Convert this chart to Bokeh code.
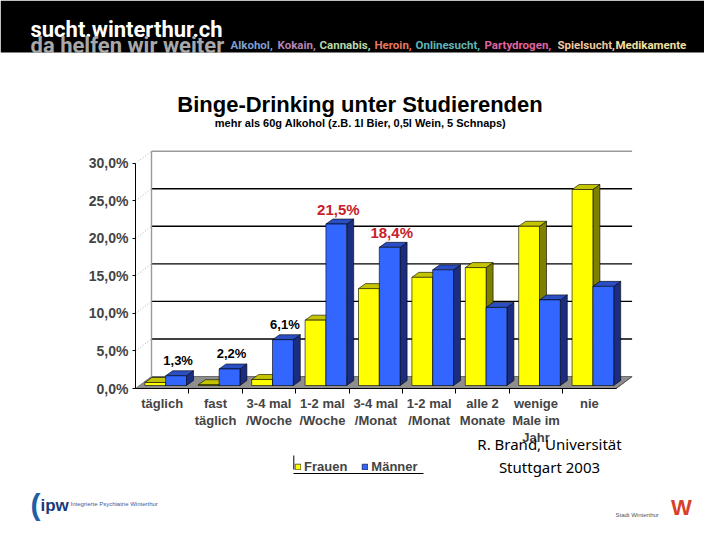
import numpy as np
from bokeh.plotting import figure
from bokeh.models import (Label, FixedTicker, Legend, LegendItem, BoxAnnotation,
                          Arrow, Range1d)
from bokeh.core.properties import value
from bokeh.embed import file_html
from bokeh.resources import INLINE

# ---------------- data ----------------
categories = ["täglich", "fast\ntäglich", "3-4 mal\n/Woche", "1-2 mal\n/Woche",
              "3-4 mal\n/Monat", "1-2 mal\n/Monat", "alle 2\nMonate",
              "wenige\nMale im\nJahr", "nie"]
frauen = [0.4, 0.1, 0.8, 8.7, 12.9, 14.4, 15.7, 21.2, 26.1]
maenner = [1.3, 2.2, 6.1, 21.5, 18.4, 15.4, 10.4, 11.4, 13.2]
labelled_maenner = [1.3, 2.2, 6.1, 21.5, 18.4]
y_ticks = [0, 5, 10, 15, 20, 25, 30]
y_tick_labels = ["0,0%", "5,0%", "10,0%", "15,0%", "20,0%", "25,0%", "30,0%"]
series_names = ["Frauen", "Männer"]
topics = ["Alkohol,", "Kokain,", "Cannabis,", "Heroin,", "Onlinesucht,",
          "Partydrogen,", "Spielsucht,", "Medikamente"]

# ---------------- styling / geometry ----------------
W, H = 704, 524
X0, Y0 = 135, 388                         # canvas px of the front axis origin
PXU = 53.4                                # px per category
PYU = 7.51                                # px per percent
WX, WY = 16 / PXU, 12 / PYU               # back-wall offset
BX0, BY0 = 3.5 / PXU, 3 / PYU             # bar placement depth
BDX, BDY = 7 / PXU, 5 / PYU               # bar depth
BW = 20.8 / PXU                           # bar width
n = len(categories)

AR = "Liberation Sans"
p = figure(width=W, height=H, output_backend="svg", toolbar_location=None,
           x_range=Range1d(-X0 / PXU, (W - X0) / PXU),
           y_range=Range1d(-(H - Y0) / PYU, Y0 / PYU),
           min_border=0, background_fill_color="white", border_fill_color="white")
p.outline_line_color = None
p.grid.visible = False

# floor
p.patch([0, n, n + WX, WX], [0, 0, WY, WY], fill_color="#8e8e8e",
        line_color="#6e6e6e", line_width=1)
# back wall grid
gl = [k for k in y_ticks if 0 < k < y_ticks[-1]]
p.multi_line([[WX, n + WX] for k in gl], [[k + WY, k + WY] for k in gl],
             line_color="black", line_width=1.4)
p.multi_line([[WX, n + WX], [WX, WX]], [[y_ticks[-1] + WY] * 2, [WY, y_ticks[-1] + WY]],
             line_color="#9a9a9a", line_width=1.4)
p.multi_line([[0, WX] for k in y_ticks], [[k, k + WY] for k in y_ticks],
             line_color="#b0b0b0", line_width=1, line_dash="1 2")


def faces(lefts, vals):
    sx, sy, tx, ty = [], [], [], []
    for x0, v in zip(lefts, vals):
        x1 = x0 + BW
        b, t = BY0, v + BY0
        sx.append([x1, x1 + BDX, x1 + BDX, x1])
        sy.append([b, b + BDY, t + BDY, t])
        tx.append([x0, x1, x1 + BDX, x0 + BDX])
        ty.append([t, t, t + BDY, t + BDY])
    return sx, sy, tx, ty


centers = np.arange(n) + 0.5 + BX0
series = [(frauen, centers - BW / 2, "#ffff00", "#c4c400", "#7f7f00"),
          (maenner, centers + BW / 2, "#3366ff", "#2a4fc4", "#1b2d80")]
front_r = []
for vals, xc, cf, ct, cs in series:
    sx, sy, tx, ty = faces(xc - BW / 2, vals)
    p.patches(sx, sy, fill_color=cs, line_color="black", line_width=0.6)
    p.patches(tx, ty, fill_color=ct, line_color="black", line_width=0.6)
    r = p.vbar(x=xc, width=BW, bottom=BY0, top=np.array(vals) + BY0,
               fill_color=cf, line_color="black", line_width=0.6)
    front_r.append(r)

# right floor edge
p.line([n, n + WX], [0, WY], line_color="#555555", line_width=1)

# data labels on Männer bars
lab_x = (centers + BW / 2)[:len(labelled_maenner)] + 2 / PXU
lab_txt = [f"{v:.1f}".replace(".", ",") + "%" for v in labelled_maenner]
lab_col = ["black", "black", "black", "#c8202a", "#c8202a"]
lab_size = ["13px", "13px", "13px", "15px", "15px"]
p.text(x=lab_x, y=np.array(labelled_maenner) + BY0, text=lab_txt, text_color=lab_col,
       text_font=value(AR), text_font_style="bold", text_font_size=lab_size,
       text_align="center", text_baseline="middle", y_offset=-15)

# axes (fixed at the chart's origin)
ya = p.yaxis[0]
ya.fixed_location = 0
ya.ticker = FixedTicker(ticks=y_ticks)
ya.major_label_overrides = {t: l for t, l in zip(y_ticks, y_tick_labels)}
ya.bounds = (0, y_ticks[-1])
ya.axis_line_color = "black"
ya.major_tick_out = 3
ya.major_tick_in = 0
ya.minor_tick_out = 0
ya.minor_tick_in = 0
ya.major_label_text_font = AR
ya.major_label_text_font_style = "bold"
ya.major_label_text_font_size = "14px"
ya.major_label_standoff = 4

xa = p.xaxis[0]
xa.fixed_location = 0
xt = [i + 0.5 for i in range(n)]
xa.ticker = FixedTicker(ticks=xt, minor_ticks=list(range(1, n)))
xa.major_label_overrides = {t: c for t, c in zip(xt, categories)}
xa.bounds = (0, n)
xa.axis_line_color = "black"
xa.major_tick_out = 0
xa.major_tick_in = 0
xa.minor_tick_out = 5
xa.minor_tick_in = 0
xa.minor_tick_line_color = "black"
xa.major_label_text_font = AR
xa.major_label_text_font_style = "bold"
xa.major_label_text_font_size = "13px"
xa.major_label_text_line_height = 1.15
xa.major_label_standoff = 2


def lab(text, fx, fy, size, color="black", style="bold", font=AR,
        align="left", baseline="middle"):
    p.add_layout(Label(x=fx, y=H - fy, x_units="screen", y_units="screen",
                       text=text, text_font=font, text_font_size=size,
                       text_font_style=style, text_color=color,
                       text_align=align, text_baseline=baseline))


# header band
p.add_layout(BoxAnnotation(left=0, right=W, top=H, bottom=H - 52,
                           left_units="screen", right_units="screen",
                           top_units="screen", bottom_units="screen",
                           fill_color="black", fill_alpha=1, line_color=None))
HF = "Roboto"
lab("sucht.winterthur.ch", 30, 29, "22px", "white", font=HF, baseline="alphabetic")
lab("da helfen wir weiter", 30, 45, "22px", "#a8a8a8", font=HF, baseline="alphabetic")
topic_x = [230, 277, 319, 374, 415, 484, 557, 615]
topic_c = ["#7f9fd0", "#b583b5", "#b8d8a8", "#e8785e", "#5fb6b6", "#e065a0",
           "#f0c8a0", "#f6e0a0"]
for t, x, c in zip(topics, topic_x, topic_c):
    lab(t, x, 44, "11.5px", c, font=HF, baseline="alphabetic")

# titles
lab("Binge-Drinking unter Studierenden", 359.5, 104, "22px", align="center")
lab("mehr als 60g Alkohol (z.B. 1l Bier, 0,5l Wein, 5 Schnaps)", 360, 122, "11px",
    align="center")

# citation
lab("R. Brand, Universität", 549, 443, "15px", style="normal", font="Noto Sans",
    align="center")
lab("Stuttgart 2003", 549, 466, "15px", style="normal", font="Noto Sans",
    align="center")

# legend
legend = Legend(items=[LegendItem(label=series_names[0], renderers=[front_r[0]]),
                       LegendItem(label=series_names[1], renderers=[front_r[1]])],
                location=(294, H - 474), orientation="horizontal",
                glyph_width=7, glyph_height=7, label_height=14, label_width=10,
                label_standoff=3, spacing=14, padding=3, margin=0,
                border_line_color=None, background_fill_alpha=0,
                label_text_font=AR, label_text_font_style="bold",
                label_text_font_size="13px")
p.add_layout(legend)
for xs, ys, xe, ye in [(293.3, 455, 293.3, 469), (293, 473, 423, 473)]:
    p.add_layout(Arrow(x_start=xs, y_start=H - ys, x_end=xe, y_end=H - ye,
                       start_units="screen", end_units="screen", end=None,
                       line_color="black", line_width=1))

# footer logos
lab("(", 30, 504, "30px", "#1f5fa8", font=AR)
lab("ipw", 40, 505, "17px", "#1a3a7a", font=AR)
lab("Integrierte Psychiatrie Winterthur", 70, 503, "6px", "#3a5a9a", style="normal")
lab("Stadt Winterthur", 615, 514, "6px", "#555555", style="normal")
lab("W", 681, 507, "22px", "#d8402a", style="bold", align="center")

open("out.html", "w").write(file_html(p, INLINE))
